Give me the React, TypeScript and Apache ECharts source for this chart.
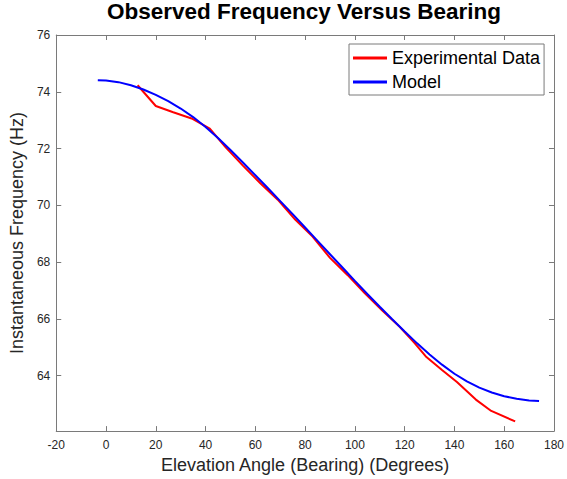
import React, { useEffect, useRef } from "react";
import * as echarts from "echarts";

const titleText = "Observed Frequency Versus Bearing";
const xName = "Elevation Angle (Bearing) (Degrees)";
const yName = "Instantaneous Frequency (Hz)";

const xMin = -20;
const xMax = 180;
const xStep = 20;
const yMin = 62.05;
const yMax = 76;
const yTicks = [64, 66, 68, 70, 72, 74, 76];

const expAngles = [12.7, 20, 27, 34.4, 41.7, 48, 55, 62, 69, 76, 83, 90, 97, 104, 111, 118, 124, 128.5, 135, 141, 148.6, 154.8, 164.4];
const expFreq = [74.23, 73.5, 73.28, 73.06, 72.7, 72.05, 71.4, 70.78, 70.2, 69.5, 68.9, 68.15, 67.55, 66.9, 66.3, 65.72, 65.15, 64.68, 64.2, 63.78, 63.16, 62.76, 62.39];

const modelAngles = [-3.3, 0, 5, 10, 15, 20, 25, 30, 35, 40, 45, 50, 55, 60, 65, 70, 75, 80, 85, 90, 95, 100, 105, 110, 115, 120, 125, 130, 135, 140, 145, 150, 155, 160, 165, 170, 174];
const modelFreq = [74.41, 74.4, 74.34, 74.23, 74.08, 73.89, 73.67, 73.41, 73.11, 72.76, 72.37, 71.95, 71.51, 71.06, 70.61, 70.15, 69.69, 69.22, 68.75, 68.28, 67.81, 67.34, 66.88, 66.43, 65.99, 65.56, 65.14, 64.75, 64.39, 64.07, 63.8, 63.58, 63.41, 63.28, 63.19, 63.13, 63.11];

const FONT = "Liberation Sans";
const AXIS_COLOR = "#7a7a7a";
const LABEL_COLOR = "#262626";

export default function App() {
  const ref = useRef<HTMLDivElement>(null);
  useEffect(() => {
    if (!ref.current) return;
    const chart = echarts.init(ref.current, undefined, { renderer: "svg" });
    const expData = expAngles.map((a, i) => [a, expFreq[i]]);
    const modelData = modelAngles.map((a, i) => [a, modelFreq[i]]);
    const axisLine = { show: true, onZero: false, lineStyle: { color: AXIS_COLOR, width: 1 } };
    const tick = { show: true, inside: true, length: 5, lineStyle: { color: AXIS_COLOR, width: 1 } };
    chart.setOption({
      animation: false,
      backgroundColor: "#ffffff",
      title: {
        text: titleText,
        left: 107,
        top: 0,
        padding: 0,
        textStyle: { fontSize: 22.5, fontWeight: "bold", color: "#000", fontFamily: FONT },
      },
      legend: {
        orient: "vertical",
        left: 349,
        top: 44,
        padding: [5, 4, 4, 4],
        itemGap: 6,
        itemWidth: 34,
        itemHeight: 3,
        icon: "rect",
        borderColor: AXIS_COLOR,
        borderWidth: 1,
        backgroundColor: "#fff",
        textStyle: { fontSize: 18, color: "#000", fontFamily: FONT },
        data: ["Experimental Data", "Model"],
      },
      grid: { left: 51, right: 9, top: 35, bottom: 44, containLabel: false },
      xAxis: [
        {
          type: "value",
          min: xMin,
          max: xMax,
          interval: xStep,
          position: "bottom",
          name: xName,
          nameLocation: "middle",
          nameGap: 21,
          nameTextStyle: { fontSize: 18, color: LABEL_COLOR, fontFamily: FONT },
          axisLine,
          axisTick: tick,
          axisLabel: { fontSize: 12, color: LABEL_COLOR, fontFamily: FONT, margin: 8 },
          splitLine: { show: false },
        },
        {
          type: "value",
          min: xMin,
          max: xMax,
          interval: xStep,
          position: "top",
          axisLine,
          axisTick: tick,
          axisLabel: { show: false },
          splitLine: { show: false },
        },
      ],
      yAxis: [
        {
          type: "value",
          min: yMin,
          max: yMax,
          position: "left",
          name: yName,
          nameLocation: "middle",
          nameGap: 22,
          nameTextStyle: { fontSize: 18, color: LABEL_COLOR, fontFamily: FONT },
          axisLine,
          axisTick: { ...tick, customValues: yTicks },
          axisLabel: { fontSize: 12, color: LABEL_COLOR, fontFamily: FONT, margin: 6, customValues: yTicks },
          splitLine: { show: false },
        },
        {
          type: "value",
          min: yMin,
          max: yMax,
          position: "right",
          axisLine,
          axisTick: { ...tick, customValues: yTicks },
          axisLabel: { show: false, customValues: yTicks },
          splitLine: { show: false },
        },
      ],
      series: [
        {
          name: "Experimental Data",
          type: "line",
          data: expData,
          showSymbol: false,
          symbol: "none",
          color: "#ff0000",
          lineStyle: { color: "#ff0000", width: 2 },
        },
        {
          name: "Model",
          type: "line",
          data: modelData,
          showSymbol: false,
          symbol: "none",
          color: "#0000ff",
          lineStyle: { color: "#0000ff", width: 2 },
        },
      ],
    });
    return () => chart.dispose();
  }, []);
  return <div ref={ref} style={{ position: "absolute", left: 0, top: 0, width: 567, height: 479 }} />;
}
